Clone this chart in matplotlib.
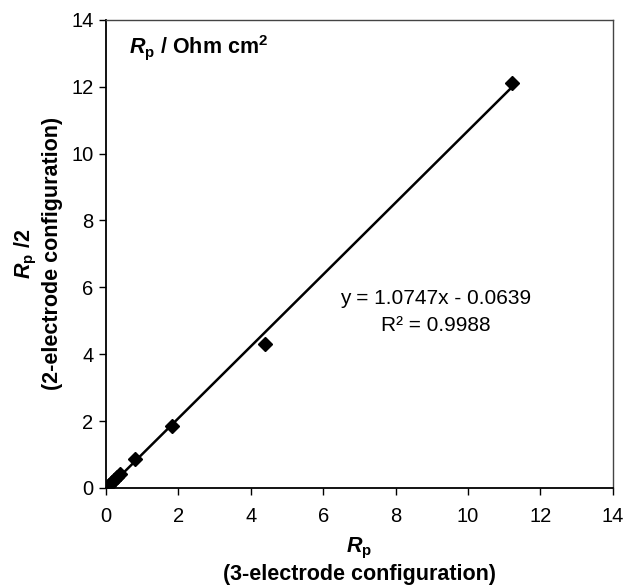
import numpy as np
import matplotlib
matplotlib.use("Agg")
from matplotlib import pyplot as plt

plt.rcParams['font.family'] = ['Liberation Sans', 'DejaVu Sans']
plt.rcParams['mathtext.fontset'] = 'custom'
plt.rcParams['mathtext.it'] = 'Liberation Sans:italic:bold'
plt.rcParams['mathtext.rm'] = 'Liberation Sans:bold'

# Rp from 3-electrode vs Rp/2 from 2-electrode measurements (Ohm cm2)
rp_3el = [0.08, 0.15, 0.22, 0.30, 0.38, 0.80, 1.82, 4.38, 11.22]
rp_2el = [0.10, 0.17, 0.25, 0.33, 0.42, 0.85, 1.85, 4.30, 12.10]
slope, intercept, r2 = 1.0747, -0.0639, 0.9988

fig = plt.figure(figsize=(6.24, 5.85), dpi=100)
ax = fig.add_axes([0.170, 0.166, 0.812, 0.800])

xf = np.array([min(rp_3el), max(rp_3el)])
ax.plot(xf, slope * xf + intercept, color='black', lw=1.8, zorder=2)
ax.plot(rp_3el, rp_2el, 'D', color='black', ms=7, zorder=3)

ax.set_xlim(0, 14)
ax.set_ylim(0, 14)
ax.set_xticks(range(0, 15, 2))
ax.set_yticks(range(0, 15, 2))
ax.tick_params(direction='out', length=5, width=1, labelsize=14.5, pad=4)
ax.tick_params(axis='x', pad=9)
for s in ['left', 'bottom']:
    ax.spines[s].set_linewidth(1.3)
for s in ['top', 'right']:
    ax.spines[s].set_linewidth(1.0)
    ax.spines[s].set_color('#444444')

ax.text(0.045, 0.94, r'$R_{\mathrm{p}}$ / Ohm cm$^{\mathrm{2}}$', transform=ax.transAxes,
        fontsize=15.5, fontweight='bold', va='center', ha='left')
ax.text(0.65, 0.405, 'y = %.4fx - %.4f' % (slope, -intercept), transform=ax.transAxes,
        fontsize=15, ha='center', va='center')
ax.text(0.65, 0.348, 'R\u00b2 = %.4f' % r2, transform=ax.transAxes,
        fontsize=15, ha='center', va='center')

ax.set_xlabel('$R_{\\mathrm{p}}$\n(3-electrode configuration)', fontsize=15.5,
              fontweight='bold', linespacing=1.2, labelpad=7)
ax.set_ylabel('$R_{\\mathrm{p}}$ /2\n(2-electrode configuration)', fontsize=15.5,
              fontweight='bold', linespacing=1.2, labelpad=6)

fig.savefig('out.png', dpi=100)
